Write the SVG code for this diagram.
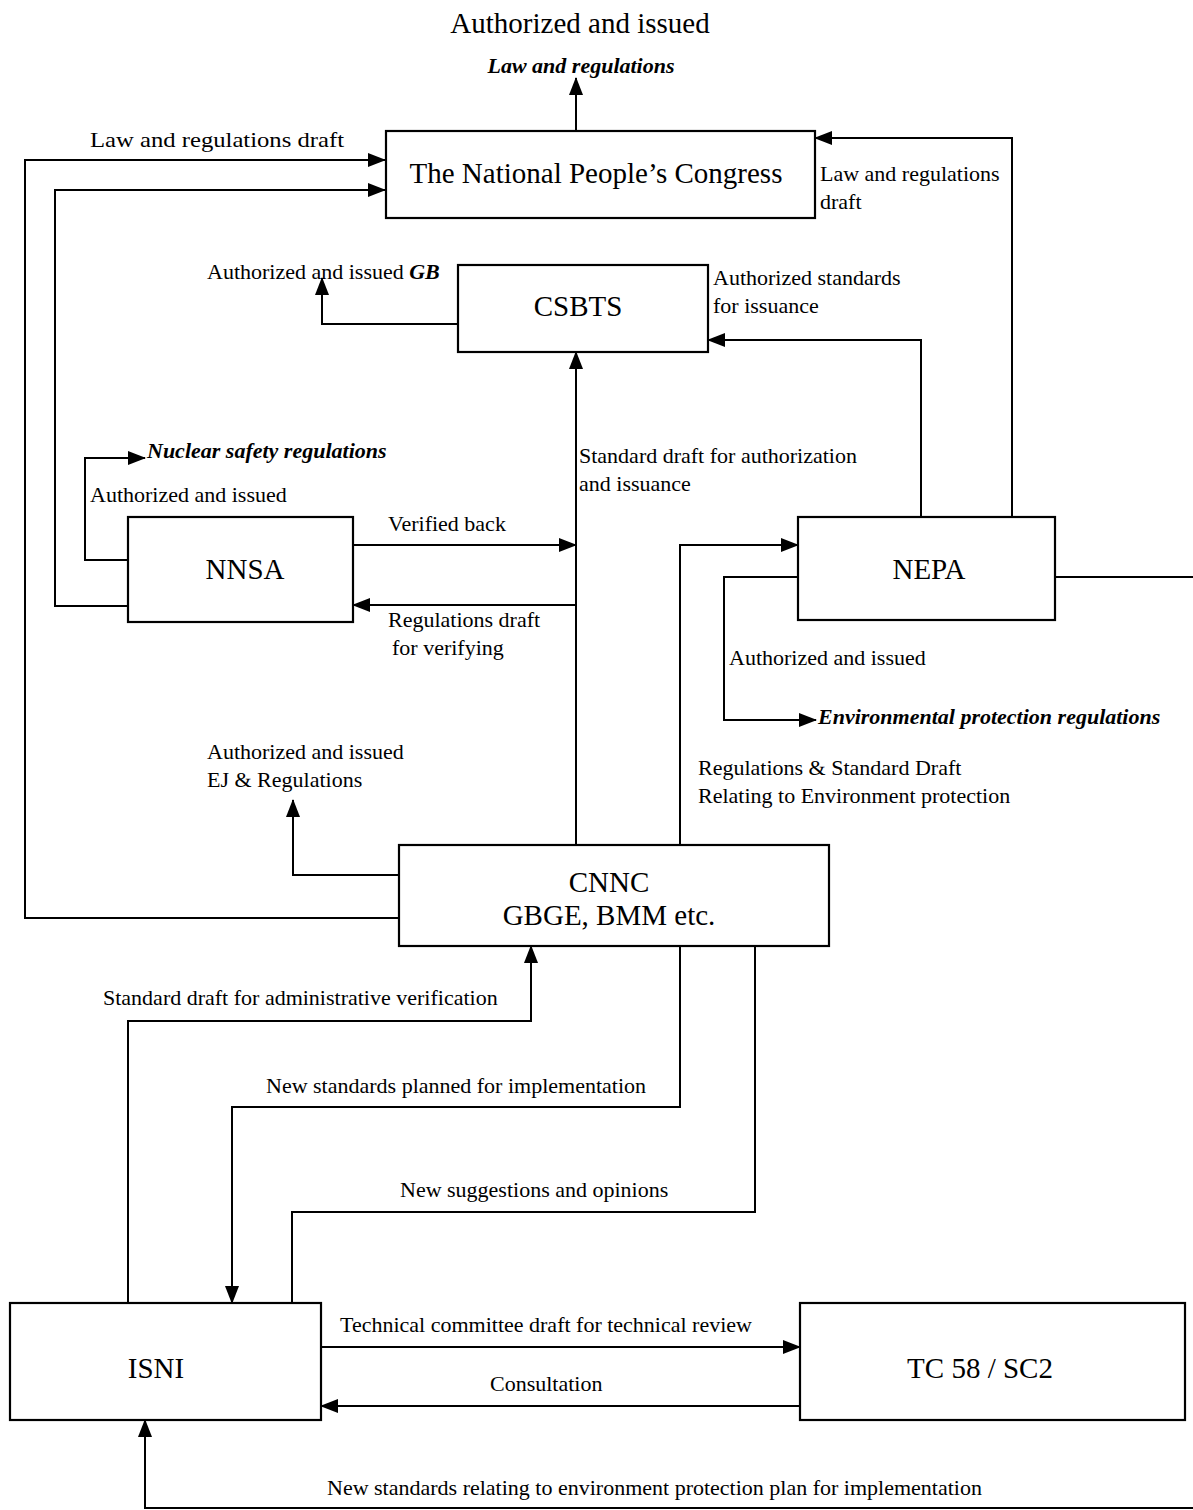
<svg xmlns="http://www.w3.org/2000/svg" width="1193" height="1510" viewBox="0 0 1193 1510">
<style>
  .box { fill: #fff; stroke: #000; stroke-width: 2.2; }
  .ln { fill: none; stroke: #000; stroke-width: 2; }
  .arr { marker-end: url(#ah); }
  .t { font-family: "Liberation Serif", "Times New Roman", serif; font-size: 22px; fill: #000; }
  .n { font-family: "Liberation Serif", "Times New Roman", serif; font-size: 29px; fill: #000; text-anchor: middle; }
  .bi { font-weight: bold; font-style: italic; }
</style>
<defs>
  <marker id="ah" markerUnits="userSpaceOnUse" markerWidth="18" markerHeight="14" refX="17" refY="7" orient="auto">
    <path d="M0,0 L18,7 L0,14 z" fill="#000"/>
  </marker>
</defs>
<rect width="1193" height="1510" fill="#fff"/>

<g id="connectors">
  <path class="ln arr" d="M576,131 V78"/>
  <path class="ln arr" d="M399,918 H25 V160 H385"/>
  <path class="ln arr" d="M128,606 H55 V190 H385"/>
  <path class="ln arr" d="M1012,517 V138 H815"/>
  <path class="ln arr" d="M921,517 V340 H708"/>
  <path class="ln arr" d="M458,324 H322 V278"/>
  <path class="ln arr" d="M576,845 V352"/>
  <path class="ln arr" d="M128,560 H85 V458 H145"/>
  <path class="ln arr" d="M353,545 H576"/>
  <path class="ln arr" d="M576,605 H353"/>
  <path class="ln arr" d="M680,845 V545 H798"/>
  <path class="ln arr" d="M798,577 H724 V720 H816"/>
  <path class="ln" d="M1055,577 H1193"/>
  <path class="ln arr" d="M399,875 H293 V800"/>
  <path class="ln arr" d="M128,1303 V1021 H531 V946"/>
  <path class="ln arr" d="M680,946 V1107 H232 V1303"/>
  <path class="ln" d="M755,946 V1212 H292 V1303"/>
  <path class="ln arr" d="M321,1347 H800"/>
  <path class="ln arr" d="M800,1406 H321"/>
  <path class="ln arr" d="M1193,1508 H145 V1420"/>
</g>

<g id="labels">
  <text class="n" x="580" y="33">Authorized and issued</text>
  <text class="t bi" x="581" y="73" text-anchor="middle">Law and regulations</text>
  <text class="t" x="90" y="147" textLength="254" lengthAdjust="spacingAndGlyphs">Law and regulations draft</text>
  <text class="t" x="820" y="181">Law and regulations</text>
  <text class="t" x="820" y="209">draft</text>
  <text class="t" x="207" y="279">Authorized and issued <tspan class="bi">GB</tspan></text>
  <text class="t" x="713" y="285">Authorized standards</text>
  <text class="t" x="713" y="313">for issuance</text>
  <text class="t bi" x="147" y="458">Nuclear safety regulations</text>
  <text class="t" x="90" y="502">Authorized and issued</text>
  <text class="t" x="579" y="463">Standard draft for authorization</text>
  <text class="t" x="579" y="491">and issuance</text>
  <text class="t" x="388" y="531">Verified back</text>
  <text class="t" x="388" y="627">Regulations draft</text>
  <text class="t" x="392" y="655">for verifying</text>
  <text class="t" x="729" y="665">Authorized and issued</text>
  <text class="t bi" x="818" y="724">Environmental protection regulations</text>
  <text class="t" x="207" y="759">Authorized and issued</text>
  <text class="t" x="207" y="787">EJ &amp; Regulations</text>
  <text class="t" x="698" y="775">Regulations &amp; Standard Draft</text>
  <text class="t" x="698" y="803">Relating to Environment protection</text>
  <text class="t" x="103" y="1005">Standard draft for administrative verification</text>
  <text class="t" x="266" y="1093">New standards planned for implementation</text>
  <text class="t" x="400" y="1197">New suggestions and opinions</text>
  <text class="t" x="340" y="1332">Technical committee draft for technical review</text>
  <text class="t" x="490" y="1391">Consultation</text>
  <text class="t" x="327" y="1495">New standards relating to environment protection plan for implementation</text>
</g>

<g id="npc">
  <rect class="box" x="386" y="131" width="429" height="87"/>
  <text class="n" x="596" y="183">The National People’s Congress</text>
</g>
<g id="csbts">
  <rect class="box" x="458" y="265" width="250" height="87"/>
  <text class="n" x="578" y="316">CSBTS</text>
</g>
<g id="nnsa">
  <rect class="box" x="128" y="517" width="225" height="105"/>
  <text class="n" x="245" y="579">NNSA</text>
</g>
<g id="nepa">
  <rect class="box" x="798" y="517" width="257" height="103"/>
  <text class="n" x="929" y="579">NEPA</text>
</g>
<g id="cnnc">
  <rect class="box" x="399" y="845" width="430" height="101"/>
  <text class="n" x="609" y="892">CNNC</text>
  <text class="n" x="609" y="925">GBGE, BMM etc.</text>
</g>
<g id="isni">
  <rect class="box" x="10" y="1303" width="311" height="117"/>
  <text class="n" x="156" y="1378">ISNI</text>
</g>
<g id="tc58">
  <rect class="box" x="800" y="1303" width="385" height="117"/>
  <text class="n" x="980" y="1378">TC 58 / SC2</text>
</g>
</svg>
